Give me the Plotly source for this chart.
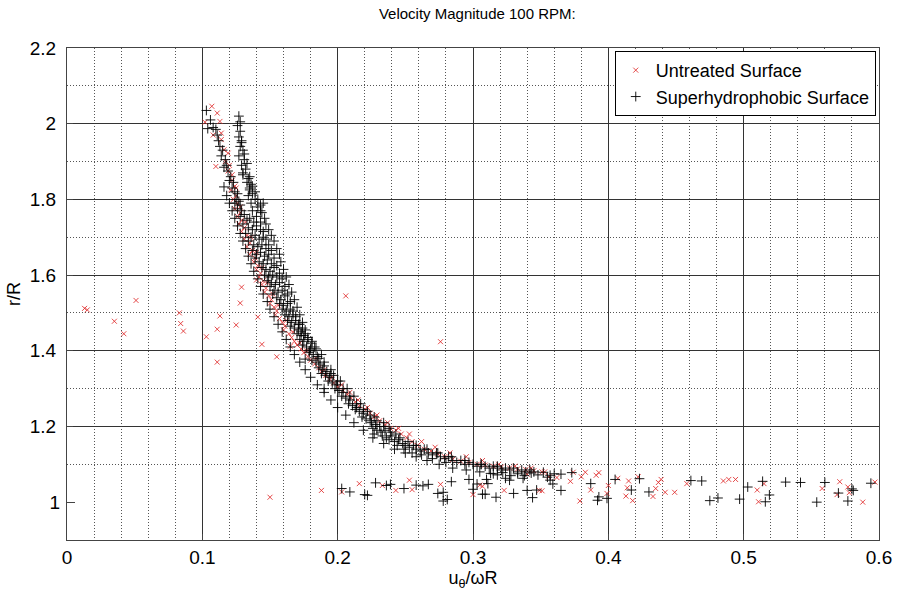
import plotly.graph_objects as go

# ---------------- data ----------------
# Untreated Surface (red x)
ut_x = [
    # top of curve
    0.107, 0.111, 0.113, 0.114, 0.108, 0.114, 0.116, 0.119, 0.110, 0.117, 0.120, 0.119, 0.122, 0.102,
    # band
    0.122, 0.124, 0.121, 0.125, 0.123, 0.126, 0.124, 0.128, 0.126, 0.129, 0.127, 0.131, 0.129, 0.133,
    0.131, 0.135, 0.133, 0.137, 0.135, 0.139, 0.138, 0.141, 0.140, 0.143, 0.142, 0.145, 0.144, 0.147,
    0.146, 0.149, 0.151, 0.150, 0.153, 0.155, 0.154, 0.157, 0.159, 0.161, 0.160, 0.164, 0.166, 0.168,
    0.170, 0.173, 0.175, 0.178, 0.180, 0.183, 0.186, 0.188, 0.191, 0.194, 0.197, 0.200, 0.204, 0.207,
    0.210, 0.213, 0.216, 0.220, 0.224, 0.227, 0.231, 0.235, 0.239, 0.243, 0.247, 0.251, 0.255, 0.259,
    0.264, 0.269, 0.274, 0.279, 0.285, 0.291, 0.297, 0.303, 0.309, 0.315, 0.321, 0.327, 0.333, 0.339,
    0.345, 0.351,
    0.125, 0.128, 0.132, 0.136, 0.140, 0.144, 0.148, 0.152, 0.156, 0.162, 0.167, 0.172, 0.177, 0.184,
    0.190, 0.196, 0.203, 0.209, 0.215, 0.222, 0.229, 0.237, 0.245, 0.253, 0.262, 0.272, 0.283, 0.295,
    0.307, 0.319, 0.331, 0.343,
    # scattered points left of the curve
    0.013, 0.015, 0.035, 0.042, 0.051, 0.083, 0.084, 0.086, 0.103, 0.111, 0.111, 0.113, 0.125, 0.128,
    0.129, 0.140, 0.141, 0.144, 0.155, 0.165, 0.206, 0.276,
    # tail near r/R = 1
    0.150, 0.188, 0.203, 0.216, 0.233, 0.243, 0.253, 0.255, 0.276, 0.300, 0.305, 0.307, 0.323, 0.340,
    0.349, 0.351, 0.353, 0.356, 0.362, 0.372, 0.374, 0.379, 0.380, 0.383, 0.387, 0.391, 0.393, 0.399,
    0.400, 0.407, 0.413, 0.415, 0.414, 0.418, 0.422, 0.433, 0.435, 0.437, 0.439, 0.442, 0.449, 0.458,
    0.485, 0.489, 0.494, 0.510, 0.511, 0.515, 0.558, 0.569, 0.571, 0.577, 0.578, 0.588, 0.597,
]
ut_y = [
    2.046, 2.028, 2.006, 1.975, 1.970, 1.958, 1.931, 1.922, 1.887, 1.900, 1.890, 1.875, 1.865, 2.004,
    1.850, 1.835, 1.825, 1.810, 1.800, 1.790, 1.775, 1.765, 1.755, 1.745, 1.735, 1.725, 1.715, 1.705,
    1.695, 1.685, 1.675, 1.665, 1.655, 1.645, 1.635, 1.625, 1.615, 1.605, 1.595, 1.585, 1.575, 1.565,
    1.555, 1.545, 1.535, 1.525, 1.515, 1.505, 1.495, 1.485, 1.475, 1.465, 1.455, 1.445, 1.435, 1.425,
    1.415, 1.405, 1.395, 1.385, 1.375, 1.365, 1.355, 1.345, 1.335, 1.325, 1.315, 1.305, 1.295, 1.285,
    1.275, 1.265, 1.255, 1.245, 1.235, 1.225, 1.215, 1.205, 1.195, 1.190, 1.180, 1.170, 1.160, 1.150,
    1.140, 1.135, 1.128, 1.120, 1.113, 1.108, 1.105, 1.100, 1.098, 1.095, 1.093, 1.090, 1.088, 1.086,
    1.083, 1.080,
    1.830, 1.780, 1.740, 1.700, 1.660, 1.620, 1.580, 1.550, 1.520, 1.480, 1.450, 1.420, 1.400, 1.380,
    1.350, 1.330, 1.310, 1.290, 1.270, 1.250, 1.230, 1.210, 1.195, 1.180, 1.160, 1.145, 1.130, 1.120,
    1.110, 1.100, 1.095, 1.090,
    1.512, 1.508, 1.478, 1.445, 1.533, 1.500, 1.472, 1.452, 1.437, 1.370, 1.457, 1.492, 1.468, 1.526,
    1.568, 1.587, 1.489, 1.417, 1.384, 1.412, 1.545, 1.424,
    1.013, 1.031, 1.027, 1.049, 1.044, 1.031, 1.058, 1.033, 1.047, 1.020, 1.045, 1.042, 1.031, 1.074,
    1.031, 1.030, 1.080, 1.067, 1.065, 1.055, 1.079, 1.003, 1.067, 1.079, 1.032, 1.071, 1.078, 1.023,
    1.044, 1.063, 1.016, 1.056, 1.038, 1.004, 1.067, 1.015, 1.036, 1.052, 1.060, 1.026, 1.026, 1.049,
    1.056, 1.060, 1.060, 1.032, 1.001, 1.049, 1.036, 1.020, 1.054, 1.040, 1.025, 1.000, 1.053,
]

# Superhydrophobic Surface (black +)
sh_x = [
    # main branch at top
    0.103, 0.104, 0.106, 0.108, 0.110, 0.111, 0.112, 0.113, 0.115, 0.114, 0.117, 0.118, 0.116, 0.119,
    0.121, 0.120, 0.123, 0.122, 0.124, 0.126, 0.125, 0.127, 0.128,
    # second branch at top
    0.127, 0.128, 0.126, 0.128, 0.127, 0.129, 0.128, 0.130, 0.127, 0.131, 0.129, 0.132, 0.130, 0.134,
    0.133, 0.136, 0.135, 0.137, 0.134, 0.139, 0.136, 0.141, 0.145, 0.143, 0.116,
    # r/R 1.8 - 1.6
    0.124, 0.126, 0.129, 0.131, 0.128, 0.133, 0.135, 0.138, 0.130, 0.134, 0.137, 0.140, 0.143, 0.132,
    0.136, 0.139, 0.142, 0.145, 0.134, 0.138, 0.141, 0.144, 0.147, 0.137, 0.140, 0.143, 0.146, 0.149,
    0.139, 0.142, 0.145, 0.148, 0.151, 0.144, 0.147, 0.150, 0.153, 0.146, 0.149, 0.152, 0.155,
    # r/R 1.6 - 1.4
    0.148, 0.151, 0.154, 0.157, 0.150, 0.153, 0.156, 0.159, 0.152, 0.155, 0.158, 0.161, 0.157, 0.160,
    0.163, 0.159, 0.162, 0.165, 0.161, 0.164, 0.167, 0.163, 0.166, 0.169, 0.172, 0.165, 0.168, 0.171,
    0.174, 0.170, 0.173, 0.176, 0.172, 0.175, 0.178, 0.181, 0.174, 0.177, 0.180, 0.183, 0.176, 0.190,
    # r/R 1.4 - 1.2
    0.179, 0.182, 0.185, 0.188, 0.181, 0.184, 0.187, 0.190, 0.186, 0.189, 0.192, 0.195, 0.188, 0.191,
    0.194, 0.197, 0.193, 0.196, 0.199, 0.202, 0.198, 0.201, 0.204, 0.207, 0.203, 0.206, 0.209, 0.212,
    0.208, 0.211, 0.214, 0.217, 0.213, 0.216, 0.219, 0.222, 0.218, 0.221, 0.224, 0.227, 0.225, 0.228,
    0.231, 0.234,
    # r/R 1.2 - 1.08
    0.226, 0.229, 0.232, 0.235, 0.238, 0.227, 0.233, 0.236, 0.240, 0.243, 0.238, 0.242, 0.245, 0.248,
    0.244, 0.250, 0.253, 0.256, 0.249, 0.258, 0.261, 0.264, 0.255, 0.267, 0.270, 0.273, 0.262, 0.276,
    0.279, 0.282, 0.270, 0.285, 0.288, 0.291, 0.280, 0.294, 0.297, 0.300, 0.303, 0.306, 0.309, 0.312,
    0.315, 0.318, 0.321, 0.324, 0.327, 0.330, 0.333, 0.336, 0.339, 0.342, 0.345,
    0.318, 0.322, 0.328, 0.333, 0.338, 0.343, 0.348, 0.352, 0.355, 0.360,
    # right edge of the band (upper part)
    0.129, 0.131, 0.133, 0.130, 0.135, 0.137, 0.139, 0.135, 0.141, 0.143, 0.137, 0.144, 0.146, 0.140,
    0.147, 0.143, 0.149, 0.145, 0.151, 0.147, 0.153, 0.149, 0.155, 0.151, 0.157, 0.153, 0.158, 0.155,
    0.160, 0.157, 0.162, 0.159, 0.164, 0.161, 0.166, 0.163, 0.168, 0.165, 0.170, 0.167, 0.172, 0.169,
    0.174, 0.171, 0.176, 0.173, 0.178, 0.175, 0.181, 0.184, 0.179,
    # left edge of the band
    0.118, 0.120, 0.122, 0.124, 0.126, 0.128, 0.130, 0.132, 0.134, 0.136, 0.138, 0.141, 0.143, 0.145,
    0.148, 0.150, 0.153, 0.156, 0.159, 0.162, 0.165, 0.168, 0.172, 0.176, 0.180, 0.185, 0.190, 0.195,
    0.200, 0.206, 0.212, 0.219, 0.226, 0.234, 0.242, 0.250, 0.258, 0.266, 0.275, 0.285, 0.295, 0.305,
    0.315,
    # lower part of the band
    0.186, 0.190, 0.195, 0.200, 0.204, 0.209, 0.214, 0.219, 0.224, 0.229, 0.234, 0.239, 0.246, 0.252,
    0.258, 0.266, 0.274, 0.284, 0.294, 0.306, 0.318,
    # tail near r/R = 1
    0.203, 0.209, 0.220, 0.222, 0.228, 0.236, 0.239, 0.249, 0.258, 0.263, 0.267, 0.274, 0.278, 0.278,
    0.281, 0.284, 0.297, 0.300, 0.303, 0.307, 0.309, 0.310, 0.311, 0.313, 0.317, 0.324, 0.327, 0.330,
    0.337, 0.340, 0.344, 0.347, 0.357, 0.357, 0.359, 0.365, 0.365, 0.373, 0.387, 0.392, 0.393, 0.399,
    0.405, 0.417, 0.423, 0.430, 0.461, 0.469, 0.475, 0.481, 0.497, 0.503, 0.514, 0.516, 0.519, 0.531,
    0.542, 0.554, 0.560, 0.570, 0.577, 0.580, 0.581, 0.594,
]
sh_y = [
    2.035, 1.987, 2.010, 1.990, 1.985, 1.970, 1.955, 1.940, 1.930, 1.915, 1.905, 1.890, 1.885, 1.875,
    1.860, 1.850, 1.845, 1.830, 1.820, 1.815, 1.800, 1.795, 1.785,
    2.020, 2.005, 1.995, 1.980, 1.965, 1.955, 1.940, 1.930, 1.915, 1.905, 1.890, 1.880, 1.865, 1.855,
    1.845, 1.840, 1.830, 1.815, 1.810, 1.800, 1.790, 1.780, 1.790, 1.770, 1.833,
    1.790, 1.775, 1.770, 1.760, 1.755, 1.745, 1.750, 1.740, 1.735, 1.725, 1.720, 1.730, 1.720, 1.710,
    1.700, 1.705, 1.695, 1.700, 1.690, 1.680, 1.675, 1.680, 1.670, 1.665, 1.655, 1.660, 1.650, 1.655,
    1.645, 1.635, 1.630, 1.640, 1.630, 1.620, 1.615, 1.610, 1.620, 1.600, 1.595, 1.600, 1.595,
    1.585, 1.580, 1.575, 1.580, 1.570, 1.560, 1.555, 1.560, 1.550, 1.540, 1.535, 1.545, 1.525, 1.520,
    1.525, 1.510, 1.505, 1.510, 1.495, 1.490, 1.495, 1.480, 1.475, 1.480, 1.470, 1.465, 1.460, 1.455,
    1.460, 1.445, 1.440, 1.445, 1.430, 1.425, 1.430, 1.420, 1.415, 1.410, 1.405, 1.410, 1.378, 1.300,
    1.395, 1.390, 1.385, 1.390, 1.375, 1.370, 1.365, 1.370, 1.355, 1.350, 1.345, 1.350, 1.340, 1.335,
    1.330, 1.335, 1.320, 1.315, 1.310, 1.320, 1.300, 1.295, 1.290, 1.300, 1.280, 1.275, 1.270, 1.280,
    1.260, 1.255, 1.250, 1.260, 1.245, 1.240, 1.235, 1.240, 1.225, 1.220, 1.215, 1.225, 1.210, 1.205,
    1.200, 1.210,
    1.195, 1.190, 1.185, 1.190, 1.195, 1.180, 1.175, 1.170, 1.175, 1.180, 1.165, 1.160, 1.165, 1.155,
    1.150, 1.150, 1.145, 1.150, 1.140, 1.140, 1.135, 1.140, 1.130, 1.130, 1.125, 1.130, 1.125, 1.120,
    1.115, 1.120, 1.115, 1.110, 1.105, 1.110, 1.105, 1.100, 1.105, 1.100, 1.095, 1.100, 1.095, 1.090,
    1.095, 1.090, 1.085, 1.090, 1.085, 1.090, 1.080, 1.085, 1.080, 1.085, 1.080,
    1.072, 1.078, 1.070, 1.075, 1.070, 1.077, 1.072, 1.079, 1.066, 1.075,
    1.950, 1.920, 1.895, 1.870, 1.860, 1.835, 1.820, 1.825, 1.800, 1.785, 1.770, 1.765, 1.750, 1.755,
    1.735, 1.740, 1.720, 1.715, 1.705, 1.695, 1.690, 1.680, 1.670, 1.665, 1.655, 1.645, 1.635, 1.625,
    1.615, 1.605, 1.595, 1.590, 1.575, 1.570, 1.555, 1.550, 1.535, 1.530, 1.515, 1.505, 1.495, 1.490,
    1.475, 1.470, 1.455, 1.450, 1.435, 1.440, 1.425, 1.405, 1.400,
    1.810, 1.790, 1.770, 1.750, 1.730, 1.710, 1.690, 1.670, 1.650, 1.630, 1.610, 1.590, 1.570, 1.550,
    1.530, 1.510, 1.490, 1.470, 1.450, 1.430, 1.410, 1.390, 1.370, 1.350, 1.330, 1.310, 1.290, 1.270,
    1.250, 1.230, 1.210, 1.190, 1.170, 1.155, 1.140, 1.130, 1.120, 1.110, 1.100, 1.090, 1.085, 1.080,
    1.075,
    1.380, 1.360, 1.340, 1.320, 1.300, 1.280, 1.260, 1.245, 1.230, 1.215, 1.200, 1.185, 1.170, 1.160,
    1.150, 1.140, 1.130, 1.120, 1.110, 1.100, 1.095,
    1.036, 1.027, 1.020, 1.018, 1.051, 1.044, 1.047, 1.036, 1.045, 1.043, 1.047, 1.023, 1.026, 1.003,
    1.007, 1.054, 1.060, 1.034, 1.048, 1.021, 1.021, 1.060, 1.049, 1.076, 1.013, 1.063, 1.058, 1.023,
    1.063, 1.031, 1.012, 1.032, 1.071, 1.058, 1.048, 1.031, 1.074, 1.078, 1.049, 1.005, 1.014, 1.010,
    1.060, 1.032, 1.062, 1.027, 1.057, 1.056, 1.004, 1.011, 1.008, 1.040, 1.055, 1.001, 1.019, 1.053,
    1.052, 1.000, 1.052, 1.024, 1.003, 1.035, 1.031, 1.050,
]

x_ticks = [0, 0.1, 0.2, 0.3, 0.4, 0.5, 0.6]
x_tick_labels = ["0", "0.1", "0.2", "0.3", "0.4", "0.5", "0.6"]
x_minor = [0.02, 0.04, 0.06, 0.08, 0.12, 0.14, 0.16, 0.18, 0.22, 0.24, 0.26, 0.28,
           0.32, 0.34, 0.36, 0.38, 0.42, 0.44, 0.46, 0.48, 0.52, 0.54, 0.56, 0.58]
y_ticks_grid = [1.2, 1.4, 1.6, 1.8, 2.0, 2.2]
y_tick_labels_grid = ["1.2", "1.4", "1.6", "1.8", "2", "2.2"]
y_minor = [1.1, 1.3, 1.5, 1.7, 1.9, 2.1]

FONT = "Liberation Sans, Arial, sans-serif"
TICK = 19

fig = go.Figure()
fig.add_trace(go.Scatter(
    x=ut_x, y=ut_y, mode="markers", name="Untreated Surface",
    marker=dict(symbol="x-thin", size=5, color="rgba(225,45,45,0.85)",
                line=dict(width=1, color="rgba(225,45,45,0.85)")),
))
fig.add_trace(go.Scatter(
    x=sh_x, y=sh_y, mode="markers", name="Superhydrophobic Surface",
    marker=dict(symbol="cross-thin", size=7, color="black",
                line=dict(width=1, color="rgba(0,0,0,0.9)")),
))

fig.update_layout(
    width=904, height=595,
    margin=dict(l=67, r=17, t=48, b=55),
    paper_bgcolor="white", plot_bgcolor="white",
    font=dict(family=FONT, color="black", size=TICK),
    title=dict(text="Velocity Magnitude 100 RPM:", x=0.528, xanchor="center",
               y=0.977, yanchor="middle", font=dict(size=15, family=FONT)),
    showlegend=True,
    legend=dict(x=0.996, y=0.994, xanchor="right", yanchor="top",
                bgcolor="white", bordercolor="black", borderwidth=1,
                font=dict(size=18, family=FONT), tracegroupgap=0,
                itemsizing="trace"),
    xaxis=dict(
        range=[0, 0.6], tickvals=x_ticks, ticktext=x_tick_labels,
        showgrid=True, gridcolor="#333", gridwidth=1,
        showline=True, linecolor="#444", linewidth=1, mirror=True,
        ticks="inside", ticklen=6, tickcolor="#444",
        zeroline=False,
        minor=dict(tickmode="array", tickvals=x_minor, showgrid=True, gridcolor="#555",
                   griddash="1px,2px", gridwidth=1, ticks=""),
        title=dict(text="u<sub>θ</sub>/ωR", font=dict(size=18), standoff=2),
        tickfont=dict(size=TICK),
    ),
    yaxis=dict(
        range=[0.9, 2.2], tickvals=y_ticks_grid, ticktext=y_tick_labels_grid,
        showgrid=True, gridcolor="#333", gridwidth=1,
        showline=True, linecolor="#444", linewidth=1, mirror=True,
        ticks="inside", ticklen=6, tickcolor="#444",
        zeroline=False, ticklabelstandoff=6,
        minor=dict(tickmode="array", tickvals=y_minor, showgrid=True, gridcolor="#555",
                   griddash="1px,2px", gridwidth=1, ticks=""),
        title=dict(text="r/R", font=dict(size=18), standoff=4),
        tickfont=dict(size=TICK),
    ),
    yaxis2=dict(
        range=[0.9, 2.2], overlaying="y", anchor="x", side="left",
        tickvals=[1.0], ticktext=["1"], showgrid=False, showline=False, zeroline=False,
        ticks="inside", ticklen=8, tickcolor="#444", tickfont=dict(size=TICK),
        ticklabelstandoff=6,
    ),
)
# empty helper trace so that the overlaid axis carrying the "1" label is drawn
fig.add_trace(go.Scatter(x=[None], y=[None], yaxis="y2", showlegend=False, hoverinfo="skip"))

fig.write_html("out.html")
